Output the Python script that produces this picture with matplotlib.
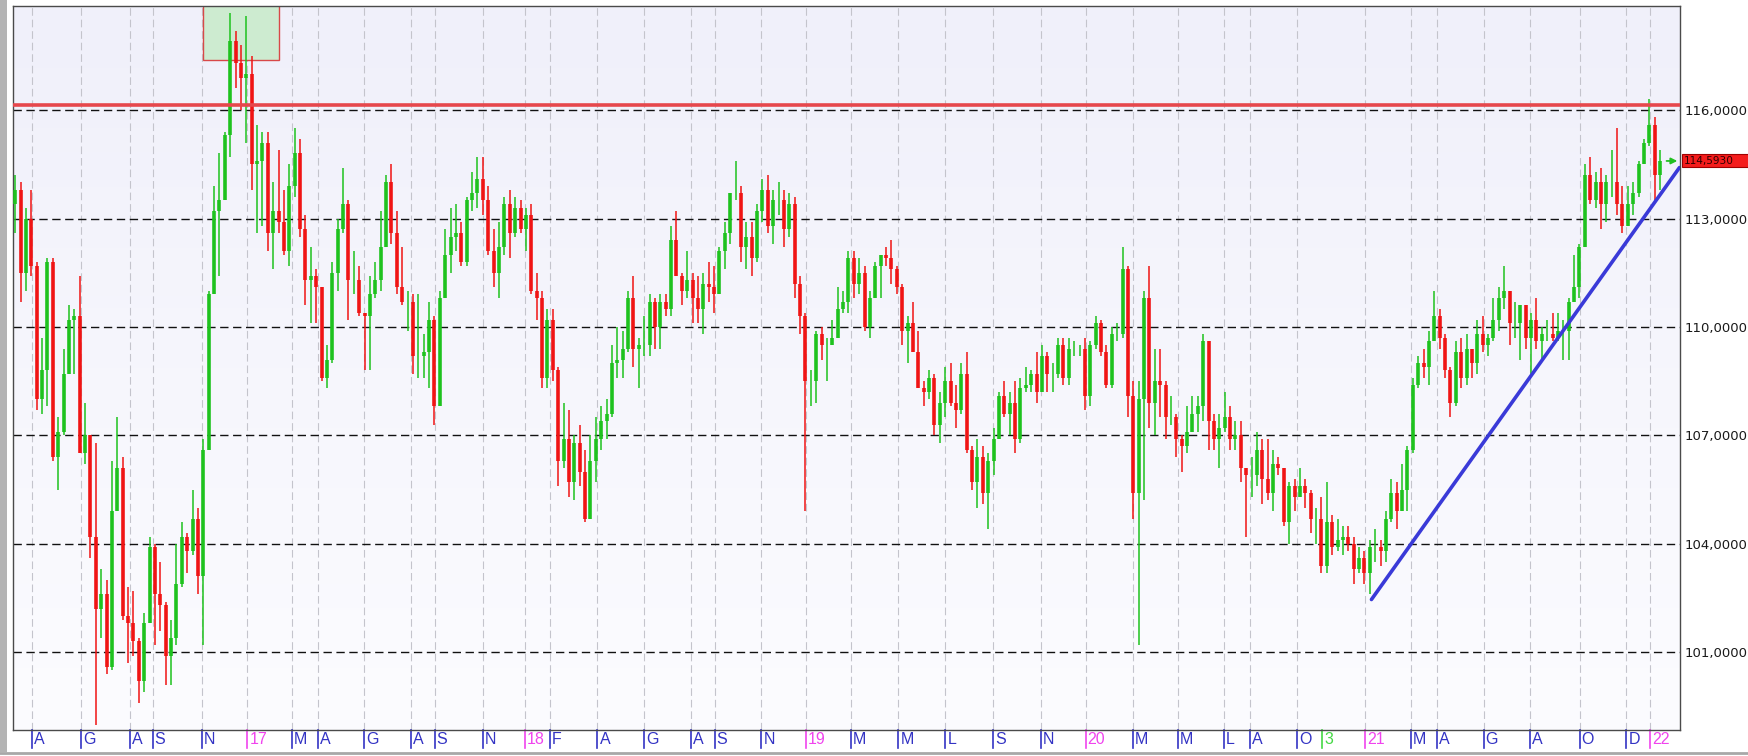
import matplotlib
matplotlib.use("Agg")
import matplotlib.pyplot as plt
import matplotlib.transforms as mtransforms
from matplotlib.patches import Rectangle
from matplotlib.lines import Line2D
import numpy as np

plt.rcParams['lines.scale_dashes'] = False

# weekly USD/JPY bars, week 0 = week of 7 Mar 2016 (open of a bar = previous close)
first_open = 113.4
high = [
    114.2, 114.0, 113.3, 113.8, 111.8, 109.7, 111.9, 111.9, 107.5, 109.4,
    110.6, 110.5, 111.4, 107.9, 107.0, 106.8, 103.3, 103.0, 106.3, 107.5,
    106.4, 102.8, 102.7, 101.4, 102.1, 104.2, 104.0, 103.5, 102.4, 101.9,
    104.0, 104.6, 104.3, 105.5, 105.0, 106.9, 111.0, 113.9, 114.8, 115.4,
    118.7, 118.2, 117.8, 118.6, 117.5, 115.6, 115.4, 115.4, 114.0, 114.9,
    113.8, 114.5, 115.5, 115.2, 113.1, 112.2, 111.6, 111.1, 109.5, 111.8,
    113.0, 114.4, 113.5, 112.1, 111.7, 110.4, 111.4, 111.8, 113.2, 114.2,
    114.5, 113.2, 112.2, 111.0, 110.9, 110.9, 109.8, 110.7, 110.3, 111.0,
    112.7, 113.3, 113.4, 112.9, 113.6, 114.3, 114.7, 114.7, 113.9, 112.7,
    112.9, 113.6, 113.8, 113.6, 113.5, 113.3, 113.4, 111.5, 111.0, 110.5,
    110.5, 108.9, 107.9, 107.7, 107.0, 107.3, 106.6, 107.0, 107.5, 107.8,
    108.0, 109.5, 110.0, 109.9, 111.0, 111.4, 109.7, 110.3, 110.9, 110.8,
    110.9, 110.9, 112.8, 113.2, 111.5, 112.1, 111.5, 111.4, 111.5, 111.8,
    111.7, 112.2, 112.9, 113.7, 114.6, 113.9, 112.9, 112.9, 113.4, 114.1,
    114.2, 113.8, 114.0, 113.8, 113.7, 113.6, 111.4, 110.4, 108.8, 109.9,
    110.0, 109.7, 110.2, 111.1, 111.0, 112.1, 112.1, 111.9, 111.7, 111.0,
    111.8, 112.0, 112.2, 112.4, 111.7, 111.2, 110.3, 110.7, 109.9, 108.5,
    108.8, 108.7, 108.2, 108.9, 109.0, 108.4, 109.0, 109.3, 106.7, 106.9,
    106.7, 106.5, 107.2, 108.2, 108.5, 108.2, 108.5, 108.6, 108.9, 108.8,
    109.3, 109.5, 109.3, 109.0, 109.7, 109.7, 109.7, 109.6, 109.5, 109.7,
    109.6, 110.3, 110.2, 109.5, 110.0, 110.1, 112.2, 111.7, 108.5, 108.5,
    111.0, 111.7, 109.4, 109.4, 108.5, 108.1, 107.6, 107.0, 107.8, 108.1,
    108.1, 109.8, 109.6, 107.6, 107.6, 108.2, 107.8, 107.4, 107.4, 106.0,
    106.4, 107.1, 106.9, 106.9, 106.6, 106.4, 106.1, 105.7, 105.8, 106.1,
    105.8, 105.5, 105.0, 105.3, 105.7, 104.8, 104.7, 104.5, 104.5, 104.2,
    103.9, 103.8, 104.1, 104.4, 104.1, 104.9, 105.8, 105.7, 106.2, 106.7,
    108.6, 109.2, 109.4, 109.9, 111.0, 110.5, 109.8, 108.9, 109.6, 109.7,
    109.8, 109.3, 110.2, 110.3, 109.8, 110.8, 111.1, 111.7, 111.0, 110.7,
    110.6, 110.6, 110.4, 110.8, 110.0, 110.2, 110.4, 110.4, 110.2, 110.8,
    112.0, 112.3, 114.5, 114.7, 114.3, 114.4, 114.2, 114.9, 115.5, 113.9,
    113.9, 114.0, 114.6, 115.2, 116.3, 115.8, 114.9,
]
low = [
    112.6, 110.7, 111.0, 111.4, 107.7, 107.6, 107.8, 106.3, 105.5, 107.0,
    108.7, 108.7, 106.5, 106.2, 103.6, 99.0, 101.4, 100.4, 100.5, 104.9,
    101.9, 100.7, 100.9, 99.6, 99.9, 101.8, 101.2, 101.6, 100.1, 100.1,
    101.2, 102.8, 103.2, 103.7, 102.6, 101.2, 106.6, 110.9, 111.4, 113.5,
    114.7, 116.6, 116.0, 115.1, 113.8, 112.6, 112.8, 112.1, 111.6, 112.6,
    112.0, 111.7, 113.6, 112.5, 110.6, 110.1, 110.1, 108.5, 108.3, 109.0,
    111.0, 112.6, 110.2, 110.9, 110.3, 108.8, 108.8, 110.8, 111.0, 112.2,
    112.3, 110.9, 110.6, 109.9, 108.7, 108.6, 108.6, 108.3, 107.3, 107.8,
    110.8, 111.5, 112.1, 111.7, 111.7, 113.2, 113.3, 113.1, 112.0, 111.1,
    110.8, 112.0, 111.9, 112.5, 112.6, 112.1, 110.9, 110.2, 108.3, 108.3,
    108.5, 105.6, 106.1, 105.3, 105.2, 105.6, 104.6, 104.7, 105.7, 106.6,
    106.9, 107.5, 108.6, 108.6, 109.3, 108.9, 108.3, 109.2, 109.2, 109.4,
    109.4, 110.3, 110.3, 111.4, 110.6, 110.8, 110.1, 110.1, 109.8, 110.7,
    110.4, 110.9, 111.6, 112.3, 113.5, 111.8, 111.6, 111.4, 111.8, 112.9,
    112.6, 112.3, 113.1, 112.2, 112.5, 110.8, 109.8, 104.9, 107.8, 107.9,
    109.1, 108.5, 109.5, 109.9, 110.4, 110.4, 110.8, 110.9, 109.9, 109.7,
    110.8, 110.8, 111.7, 111.2, 110.9, 109.5, 109.0, 109.3, 108.3, 107.8,
    108.0, 107.0, 106.8, 107.5, 107.8, 107.2, 107.6, 106.5, 105.5, 105.0,
    105.1, 104.4, 105.9, 106.9, 107.5, 107.0, 106.5, 106.8, 108.2, 108.2,
    107.9, 108.2, 108.2, 108.2, 108.6, 108.4, 108.4, 109.2, 109.2, 107.7,
    107.8, 109.4, 109.2, 108.3, 108.3, 109.6, 109.7, 107.5, 104.7, 101.2,
    105.2, 107.2, 107.0, 107.5, 106.9, 107.3, 106.4, 106.0, 106.5, 107.1,
    107.1, 107.4, 106.6, 106.6, 106.1, 107.1, 106.6, 106.6, 105.7, 104.2,
    105.3, 105.6, 105.1, 105.2, 104.9, 105.9, 104.5, 104.0, 104.9, 105.3,
    105.0, 104.3, 104.0, 103.2, 103.2, 103.7, 103.8, 103.7, 103.8, 102.9,
    103.2, 102.9, 102.6, 103.5, 103.4, 103.5, 104.6, 104.4, 104.9, 104.9,
    106.5, 108.3, 108.6, 108.4, 109.6, 109.4, 108.6, 107.5, 107.8, 108.3,
    108.4, 108.6, 108.7, 109.3, 109.2, 109.6, 109.9, 110.5, 109.5, 109.7,
    109.1, 109.4, 108.7, 109.4, 109.1, 109.6, 109.6, 109.6, 109.1, 109.1,
    110.7, 110.8, 112.2, 113.4, 113.3, 112.7, 112.9, 113.6, 113.1, 112.6,
    112.8, 113.1, 113.6, 114.5, 115.0, 113.5, 113.8,
]
close = [
    113.8, 111.5, 113.0, 111.7, 108.0, 108.8, 111.8, 106.4, 107.1, 108.7,
    110.2, 110.3, 106.5, 107.0, 104.2, 102.2, 102.6, 100.6, 104.9, 106.1,
    102.0, 101.8, 101.3, 100.2, 101.8, 103.9, 102.6, 102.3, 100.9, 101.4,
    102.9, 104.2, 103.8, 104.7, 103.1, 106.6, 110.9, 113.2, 113.5, 115.3,
    117.9, 117.3, 116.9, 117.0, 114.5, 114.6, 115.1, 112.6, 113.2, 112.9,
    112.1, 113.9, 114.8, 112.7, 111.3, 111.4, 111.1, 108.6, 109.1, 111.5,
    112.7, 113.4, 111.3, 111.3, 110.4, 110.3, 110.9, 111.3, 112.2, 114.0,
    112.6, 111.1, 110.7, 110.7, 109.2, 109.2, 109.3, 110.2, 107.8, 110.8,
    112.0, 112.5, 112.6, 111.8, 113.5, 113.7, 114.1, 113.5, 112.1, 111.5,
    112.2, 113.4, 112.6, 113.3, 112.7, 113.1, 111.0, 110.8, 108.6, 110.2,
    108.8, 106.3, 106.9, 105.7, 106.8, 106.0, 104.7, 106.3, 106.9, 107.4,
    107.6, 109.0, 109.1, 109.4, 110.8, 109.4, 109.5, 109.5, 110.7, 110.0,
    110.7, 110.5, 112.4, 111.4, 111.0, 111.3, 110.8, 110.5, 111.2, 111.1,
    110.9, 112.1, 112.6, 113.7, 113.7, 112.2, 112.5, 111.9, 113.2, 113.8,
    112.8, 113.5, 113.5, 112.7, 113.4, 111.2, 110.3, 108.5, 108.5, 109.8,
    109.5, 109.5, 109.7, 110.5, 110.7, 111.9, 111.2, 111.5, 110.0, 110.8,
    111.7, 112.0, 111.9, 111.6, 111.1, 109.9, 110.1, 109.3, 108.3, 108.2,
    108.6, 107.3, 107.9, 108.5, 107.9, 107.7, 108.7, 106.6, 105.7, 106.4,
    105.4, 106.3, 106.9, 108.1, 107.6, 107.9, 106.9, 108.3, 108.4, 108.7,
    108.2, 109.2, 108.7, 108.7, 109.5, 108.6, 109.4, 109.4, 109.4, 108.1,
    109.5, 110.1, 109.3, 108.4, 109.8, 109.8, 111.6, 108.1, 105.4, 108.0,
    110.8, 107.9, 108.5, 108.4, 107.5, 107.5, 106.9, 106.7, 107.1, 107.6,
    107.8, 109.6, 107.4, 106.9, 107.2, 107.5, 106.9, 107.0, 106.1, 105.9,
    105.9, 106.6, 105.8, 105.4, 106.2, 106.1, 104.6, 105.6, 105.3, 105.6,
    105.4, 104.7, 104.7, 103.4, 104.6, 103.9, 104.1, 104.2, 104.0, 103.3,
    103.6, 103.2, 103.9, 103.9, 103.8, 104.7, 105.4, 104.9, 105.5, 106.6,
    108.4, 109.0, 108.9, 109.6, 110.3, 109.7, 108.8, 107.9, 109.3, 108.6,
    109.4, 109.0, 109.8, 109.5, 109.7, 110.2, 110.8, 111.0, 110.1, 110.1,
    110.6, 109.7, 110.2, 109.6, 109.8, 109.8, 109.7, 109.9, 109.9, 110.7,
    111.1, 112.2, 114.2, 113.5, 114.0, 113.4, 114.0, 114.0, 113.4, 112.8,
    113.4, 113.7, 114.5, 115.1, 115.6, 114.2, 114.6,
]
last_price = 114.593

# time axis labels (position in weeks from the first bar)
tick_pos = [3.18, 12.31, 21.43, 25.58, 34.71, 43.21, 51.51, 56.27, 64.97, 73.70,
            78.05, 86.96, 94.85, 99.40, 108.32, 117.04, 125.74, 130.10, 138.80, 147.10,
            155.40, 164.30, 173.03, 181.94, 190.85, 199.15, 207.85, 216.35, 224.87, 229.63,
            238.54, 243.12, 251.19, 259.69, 264.47, 273.18, 281.88, 291.02, 299.72, 304.08]
tick_lab = ['A', 'G', 'A', 'S', 'N', '17', 'M', 'A', 'G', 'A',
            'S', 'N', '18', 'F', 'A', 'G', 'A', 'S', 'N', '19',
            'M', 'M', 'L', 'S', 'N', '20', 'M', 'M', 'L', 'A',
            'O', '3', '21', 'M', 'A', 'G', 'A', 'O', 'D', '22']
years = ['17', '18', '19', '20', '21', '22']
event_marks = ['3']

price_levels = [101, 104, 107, 110, 113, 116]
resistance = 116.14
zone_weeks = (34.9, 49.1)
zone_bottom = 117.39
trend_x = [252.3, 309.6]
trend_y = [102.46, 114.41]

W, H = 1748, 756
fig = plt.figure(figsize=(W / 100, H / 100), dpi=100)
fig.patch.set_facecolor('white')
ax = fig.add_axes([13 / W, 26 / H, 1667 / W, 724 / H])

# background gradient of the chart area
grad = np.linspace(0, 1, 256).reshape(-1, 1)
cmap = matplotlib.colors.LinearSegmentedColormap.from_list('bg', ['#f0f0fa', '#fcfcff'])
ax.imshow(grad, extent=[0, 1, 0, 1], transform=ax.transAxes, aspect='auto',
          cmap=cmap, zorder=0)

n = len(close)
x = np.arange(n)
c = np.array(close)
o = np.r_[first_open, c[:-1]]
colors = np.where(c >= o, '#1ec21e', '#f01414')

for p, lab in zip(tick_pos, tick_lab):
    if lab not in event_marks:
        ax.axvline(p, color='#c4c4cc', lw=0.8, ls=(0, (5.5, 2.8)), zorder=1)
for lv in price_levels:
    ax.axhline(lv, color='#111111', lw=1.0, ls=(0, (6, 3.3)), zorder=2)

ax.add_patch(Rectangle((zone_weeks[0], zone_bottom), zone_weeks[1] - zone_weeks[0], 5,
                       facecolor='#cdebd0', edgecolor='#d84848', lw=1.0, zorder=2))

ax.vlines(x, low, high, colors=colors, lw=1.1, zorder=3)
ax.vlines(x, np.minimum(o, c), np.maximum(o, c), colors=colors, lw=2.6, zorder=3)

ax.axhline(resistance, color='#e6474c', lw=2.6, zorder=4)
ax.plot(trend_x, trend_y, color='#3a3ad8', lw=2.6, solid_capstyle='round', zorder=5)
ax.annotate('', xy=(n + 2.2, last_price), xytext=(n + 0.2, last_price),
            arrowprops=dict(arrowstyle='-|>', color='#22c022', lw=1.3,
                            mutation_scale=9, shrinkA=0, shrinkB=0), zorder=6)

ax.set_xlim(-0.41, 309.7)
ax.set_ylim(98.85, 118.88)
ax.set_xticks([])
ax.yaxis.tick_right()
ax.set_yticks(price_levels)
ax.set_yticklabels([f'{v:.4f}'.replace('.', ',') for v in price_levels])
ax.tick_params(axis='y', length=0, pad=3, labelsize=9.5, labelcolor='#1a1a1a')
for s in ax.spines.values():
    s.set_color('#4a4a4a')
    s.set_linewidth(1.0)

# last price label on the right scale
yb = mtransforms.blended_transform_factory(ax.transAxes, ax.transData)
ax.add_patch(Rectangle((1.0012, last_price - 0.18), 0.05, 0.36, transform=yb,
                       facecolor='#f41c1c', edgecolor='#a00000', lw=0.8, clip_on=False, zorder=6))
ax.text(1.0024, last_price, f'{last_price:.4f}'.replace('.', ','), transform=yb,
        fontsize=7.6, color='#300000', va='center', ha='left', clip_on=False, zorder=7)

# time labels below the chart
xb = mtransforms.blended_transform_factory(ax.transData, ax.transAxes)
xb_txt = mtransforms.offset_copy(xb, fig=fig, x=2, y=0, units='dots')
for p, lab in zip(tick_pos, tick_lab):
    if lab in years:
        col = '#f044ee'
    elif lab in event_marks:
        col = '#44d844'
    else:
        col = '#3333c4'
    ax.add_line(Line2D([p, p], [0, -0.0245], transform=xb, color=col, lw=1.2, clip_on=False))
    ax.text(p, -0.0125, lab, transform=xb_txt, color=col, fontsize=11.5,
            family=['Liberation Sans', 'DejaVu Sans'], ha='left', va='center', clip_on=False)

# window chrome
fig.add_artist(Rectangle((0, 4 / H), 7 / W, 1, transform=fig.transFigure,
                         facecolor='#b4b4b4', edgecolor='none'))
fig.add_artist(Line2D([0, 1], [3.5 / H, 3.5 / H], transform=fig.transFigure,
                      color='#a8a8a8', lw=2))

fig.savefig('out.png', dpi=100)
